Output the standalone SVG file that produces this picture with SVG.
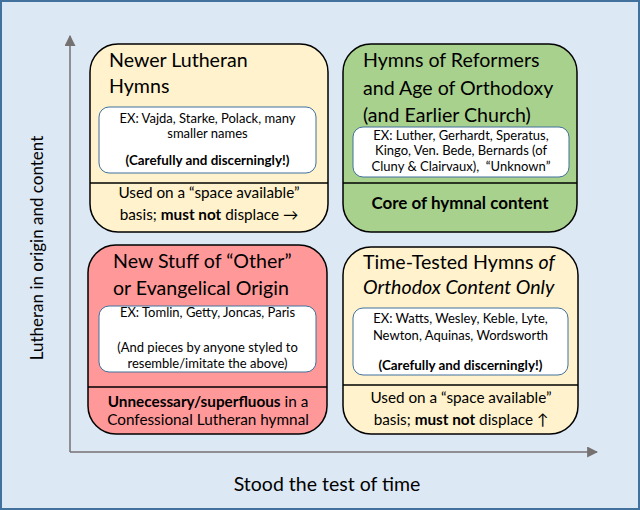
<svg xmlns="http://www.w3.org/2000/svg" width="640" height="510" viewBox="0 0 640 510">
<style>
text{font-family:Lato,"Open Sans","Liberation Sans",sans-serif;fill:#000}
.title{font-size:19.6px}
.inner{font-size:13px;text-anchor:middle}
.ib{font-size:13.4px;font-weight:bold}
.foot{font-size:15.3px;text-anchor:middle}
.core{font-size:17px;font-weight:bold}
.ax{font-size:17px;text-anchor:middle}
.axx{font-size:19.5px}
.b{font-weight:bold}
.i{font-style:italic}
.box{stroke:#000;stroke-width:1.5}
.in{fill:#fff;stroke:#41719c;stroke-width:1}
.div{stroke:#000;stroke-width:1.3}
</style>
<defs>
<marker id="ah" viewBox="0 0 10 10" refX="9" refY="5" markerWidth="11" markerHeight="11" markerUnits="userSpaceOnUse" orient="auto">
<path d="M0,0 L10,5 L0,10 z" fill="#767171"/>
</marker>
</defs>
<rect x="1" y="1" width="638" height="508" fill="#dde8f5" stroke="#41719c" stroke-width="2"/>
<g id="connectors">
<line x1="70" y1="452" x2="70" y2="36" stroke="#767171" stroke-width="1.5" marker-end="url(#ah)"/>
<line x1="70" y1="452" x2="597" y2="452" stroke="#767171" stroke-width="1.5" marker-end="url(#ah)"/>
</g>
<g id="axis-y">
<text class="ax" transform="translate(43,248) rotate(-90)">Lutheran in origin and content</text>
</g>
<g id="axis-x">
<text class="ax axx" x="327" y="491">Stood the test of time</text>
</g>
<g id="newer-lutheran">
<rect class="box" x="90" y="44" width="238" height="188" rx="28" fill="#fff2cc"/>
<line class="div" x1="90" y1="183" x2="328" y2="183"/>
<rect class="in" x="99" y="107" width="217" height="66" rx="10"/>
<text class="title" x="109" y="67">Newer Lutheran</text>
<text class="title" x="109" y="93">Hymns</text>
<text class="inner" x="207.5" y="123">EX: Vajda, Starke, Polack, many</text>
<text class="inner" x="207.5" y="138">smaller names</text>
<text class="inner ib" x="207.5" y="165">(Carefully and discerningly!)</text>
<text class="foot" x="209" y="198">Used on a “space available”</text>
<text class="foot" x="209" y="220">basis; <tspan class="b">must not</tspan> displace →</text>
</g>
<g id="reformers">
<rect class="box" x="343" y="44" width="234" height="188" rx="28" fill="#a9d18e"/>
<line class="div" x1="343" y1="183" x2="577" y2="183"/>
<rect class="in" x="353" y="127" width="216" height="50" rx="10"/>
<text class="title" x="363" y="67">Hymns of Reformers</text>
<text class="title" x="363" y="95">and Age of Orthodoxy</text>
<text class="title" x="363" y="122">(and Earlier Church)</text>
<text class="inner" x="461" y="140">EX: Luther, Gerhardt, Speratus,</text>
<text class="inner" x="461" y="155">Kingo, Ven. Bede, Bernards (of</text>
<text class="inner" x="461" y="171">Cluny &amp; Clairvaux),&#160; “Unknown”</text>
<text class="foot core" x="460" y="209">Core of hymnal content</text>
</g>
<g id="other-origin">
<rect class="box" x="88" y="245" width="239" height="189" rx="28" fill="#ff9999"/>
<line class="div" x1="88" y1="387" x2="327" y2="387"/>
<rect class="in" x="99" y="306" width="217" height="66" rx="10"/>
<text class="title" x="113" y="268">New Stuff of “Other”</text>
<text class="title" x="113" y="295">or Evangelical Origin</text>
<text class="inner" x="207.5" y="317">EX: Tomlin, Getty, Joncas, Paris</text>
<text class="inner" x="207.5" y="352">(And pieces by anyone styled to</text>
<text class="inner" x="207.5" y="368">resemble/imitate the above)</text>
<text class="foot" x="208" y="407"><tspan class="b">Unnecessary/superfluous</tspan> in a</text>
<text class="foot" x="208" y="425">Confessional Lutheran hymnal</text>
</g>
<g id="time-tested">
<rect class="box" x="343" y="247" width="235" height="187" rx="28" fill="#fff2cc"/>
<line class="div" x1="343" y1="385" x2="578" y2="385"/>
<rect class="in" x="353" y="308" width="215" height="67" rx="10"/>
<text class="title" x="363" y="269">Time-Tested Hymns <tspan class="i">of</tspan></text>
<text class="title i" x="363" y="294">Orthodox Content Only</text>
<text class="inner" x="460.5" y="323">EX: Watts, Wesley, Keble, Lyte,</text>
<text class="inner" x="460.5" y="340">Newton, Aquinas, Wordsworth</text>
<text class="inner ib" x="460.5" y="370">(Carefully and discerningly!)</text>
<text class="foot" x="461" y="403">Used on a “space available”</text>
<text class="foot" x="461" y="425">basis; <tspan class="b">must not</tspan> displace ↑</text>
</g>
</svg>
